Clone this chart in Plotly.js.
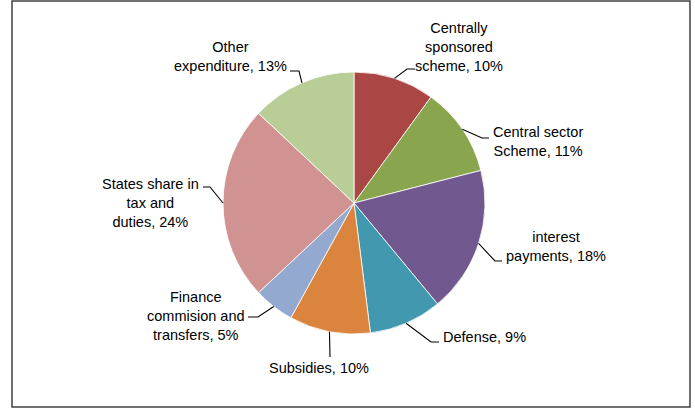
<!DOCTYPE html>
<html>
<head>
<meta charset="utf-8">
<script src="https://cdn.plot.ly/plotly-3.0.1.min.js"></script>
<style>html,body{margin:0;padding:0;background:#fff;}#chart{width:695px;height:408px;}</style>
</head>
<body>
<div id="chart"></div>
<script>
// ---- data ----
const categories = ["Centrally sponsored scheme", "Central sector Scheme", "interest payments", "Defense", "Subsidies", "Finance commision and transfers", "States share in tax and duties", "Other expenditure"];
const values = [10, 11, 18, 9, 10, 5, 24, 13];
const labelLines = [
  ["Centrally", "sponsored", "scheme, 10%"],
  ["Central sector", "Scheme, 11%"],
  ["interest", "payments, 18%"],
  ["Defense, 9%"],
  ["Subsidies, 10%"],
  ["Finance", "commision and", "transfers, 5%"],
  ["States share in", "tax and", "duties, 24%"],
  ["Other", "expenditure, 13%"]
];
const colors = ["#AA4643", "#89A54E", "#71588F", "#4198AF", "#DB843D", "#93A9CF", "#D19392", "#B9CD96"];

// ---- layout (pixels) ----
const W = 695, H = 408;
const pieLeft = 223, pieRight = 485, pieTop = 72, pieBottom = 334;
const cx = (pieLeft + pieRight) / 2, cy = (pieTop + pieBottom) / 2, R = (pieRight - pieLeft) / 2;
const labelPos = [[459, 47], [538, 141.5], [556, 246.5], [484, 337], [319, 368], [196, 316], [150, 203], [230, 56.5]];
const elbows = [[407, 69], [482, 138], [495, 261], [431, 342], [330, 357], [258, 317], [210, 187], [299, 71]];
const ends = [[415, 69], [489, 138], [502, 261], [439, 342], [330, 357], [248, 317], [203, 187], [290, 71]];

const px = x => x / W, py = y => 1 - y / H;

const total = values.reduce((a, b) => a + b, 0);
let cum = 0;
const shapes = [];
const annotations = [];
values.forEach((v, i) => {
  const mid = (cum + v / 2) / total;
  cum += v;
  const ang = mid * 2 * Math.PI;
  const ax = cx + R * Math.sin(ang), ay = cy - R * Math.cos(ang);
  const e = elbows[i], t = ends[i];
  shapes.push({
    type: 'path', xref: 'paper', yref: 'paper',
    path: `M ${px(ax)} ${py(ay)} L ${px(e[0])} ${py(e[1])} L ${px(t[0])} ${py(t[1])}`,
    line: {color: '#000000', width: 1.1}
  });
  annotations.push({
    xref: 'paper', yref: 'paper', x: px(labelPos[i][0]), y: py(labelPos[i][1]),
    xanchor: 'center', yanchor: 'middle', align: 'center', showarrow: false,
    text: labelLines[i].join('<br>'),
    font: {family: 'Liberation Sans, Arial, sans-serif', size: 14.5, color: '#000000'}
  });
});

shapes.push({
  type: 'rect', xref: 'paper', yref: 'paper',
  x0: px(12), x1: px(690), y0: py(407), y1: py(1),
  line: {color: '#404040', width: 1.5}, fillcolor: 'rgba(0,0,0,0)'
});

const trace = {
  type: 'pie',
  labels: categories,
  values: values,
  sort: false,
  direction: 'clockwise',
  rotation: 0,
  textinfo: 'none',
  hoverinfo: 'label+percent',
  marker: {colors: colors, line: {color: '#ffffff', width: 0.8}},
  domain: {x: [px(pieLeft), px(pieRight)], y: [py(pieBottom), py(pieTop)]},
  showlegend: false
};

Plotly.newPlot('chart', [trace], {
  width: W, height: H,
  margin: {l: 0, r: 0, t: 0, b: 0},
  paper_bgcolor: '#ffffff',
  showlegend: false,
  shapes: shapes,
  annotations: annotations
}, {displayModeBar: false, staticPlot: true});
</script>
</body>
</html>
